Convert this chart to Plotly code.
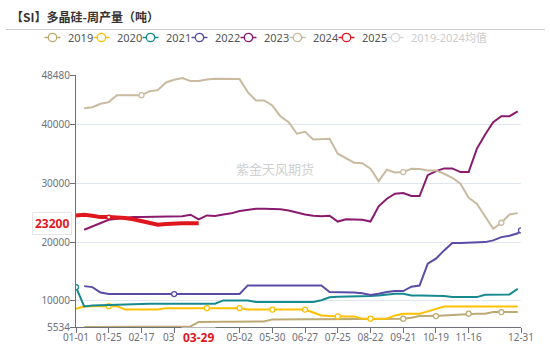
import plotly.graph_objects as go

# ---------------- data ----------------
# category dates (weekly union) and their positions on the x axis
dates = ["01-01","01-05","01-12","01-19","01-25","02-02","02-09","02-12","02-17","02-23",
         "03-01","03-02","03-08","03-15","03-22","03-29","04-05","04-12","04-19","04-26",
         "05-02","05-09","05-16","05-23","05-30","06-06","06-13","06-20","06-27","07-04",
         "07-11","07-18","07-25","08-01","08-08","08-15","08-22","08-29","09-05","09-12",
         "09-21","09-28","10-05","10-12","10-19","10-26","11-02","11-09","11-16","11-23",
         "11-30","12-07","12-14","12-21","12-27","12-31"]
pos = list(range(55)) + [54.4]

N = None
y2019 = [N, 5534, 5550, 5560, 5570, 5580, 5580, 5590, 5600, 5600,
         5610, 5610, 5620, 5620, 5630, 6400, 6450, 6450, 6450, 6450,
         6450, 6450, 6450, 6490, 6830, 6870, 6870, 6870, 6870, 6870,
         6870, 6870, 6870, 6870, 6870, 6900, 6950, 6950, 6950, 6950,
         6950, 7120, 7390, 7390, 7390, 7510, 7600, 7680, 7800, 7800,
         7800, 8070, 8070, 8070, 8070, N]
y2020 = [8650, 9040, 9090, 9090, 9090, 9090, 8510, 8510, 8510, 8510,
         8510, 8750, 8750, 8750, 8750, 8750, 8750, 8750, 8750, 8750,
         8750, 8500, 8500, 8500, 8500, 8500, 8500, 8500, 8500, 8000,
         7510, 7420, 7340, 7340, 7340, 6950, 6950, 6950, 6950, 7510,
         7800, 7800, 7800, 8200, 8650, 9040, 9040, 9040, 9040, 9040,
         9040, 9040, 9040, 9040, 9040, N]
y2021 = [12330, 9040, 9210, 9250, 9250, 9250, 9250, 9300, 9450, 9500,
         9500, 9500, 9500, 9500, 9500, 9500, 9500, 9500, 10060, 10060,
         10060, 10060, 9800, 9800, 9800, 9800, 9800, 9800, 9800, 9800,
         10100, 10600, 10700, 10700, 10700, 10700, 10800, 10900, 11100, 11200,
         11200, 10920, 10920, 10920, 10920, 10800, 10630, 10630, 10630, 10630,
         11040, 11090, 11090, 11090, 12060, N]
y2022 = [N, 12500, 12330, 11400, 11150, 11150, 11150, 11150, 11150, 11150,
         11150, 11150, 11150, 11150, 11150, 11150, 11150, 11150, 11150, 11150,
         11150, 12620, 12620, 12620, 12620, 12620, 12620, 12620, 12620, 12700,
         12600, 11500, 11500, 11400, 11400, 11300, 11000, 11200, 11500, 11650,
         11650, 12400, 12600, 16320, 17170, 18590, 19830, 19870, 19900, 19950,
         20000, 20290, 20850, 21090, 21500, 22000]
y2023 = [N, 22100, 22700, 23200, 23800, 24000, 24200, 24300, 24300, 24300,
         24350, 24350, 24400, 24400, 24670, 23870, 24550, 24450, 24700, 24900,
         25300, 25500, 25700, 25700, 25700, 25600, 25400, 25000, 24700, 24500,
         24400, 24500, 23500, 23900, 23900, 23800, 23500, 26100, 27400, 28250,
         28350, 27850, 27850, 31400, 32100, 32560, 32560, 31930, 31930, 35900,
         38300, 40450, 41470, 41470, 42270, N]
y2024 = [N, 42830, 43000, 43580, 43860, 45050, 45050, 45050, 45050, 45730,
         45900, 47210, 47670, 47950, 47440, 47440, 47720, 47840, 47840, 47840,
         47780, 45560, 44150, 44150, 43290, 41420, 40450, 38470, 38810, 37500,
         37550, 37620, 35060, 34310, 33530, 33460, 32510, 30390, 32340, 31880,
         31930, 32510, 32440, 32220, 32220, 31650, 30970, 29950, 27570, 26540,
         24300, 22280, 23300, 24720, 24940, N]
y2025 = [24550, 24650, 24500, 24260, 24260, 24260, 24100, 23900, 23600, 23300,
         22950, 23100, 23200, 23200, 23200, 23200]

series_names = ["2019", "2020", "2021", "2022", "2023", "2024", "2025"]
tick_idx = [0, 4, 8, 12, 16, 20, 24, 28, 32, 36, 40, 44, 48, 55]
hidden_tick_idx = [12, 16]          # labels covered by the axis-pointer label
y_ticks = [5534, 10000, 20000, 30000, 40000, 48480]
pointer_value = 23200
pointer_date_idx = 15

# ---------------- style ----------------
colors = {"2019": "#bcaa72", "2020": "#ffc000", "2021": "#168a8e", "2022": "#5a4ba6",
          "2023": "#8a1a6e", "2024": "#c9baa0", "2025": "#e0161e"}
mean_color = "#d9d9d9"
marker_idx = {"2019": [40, 44, 48, 52], "2020": [4, 16, 20, 24, 28, 32, 36],
              "2021": [0], "2022": [12, 55], "2023": [], "2024": [8, 40, 52], "2025": [4]}
data = {"2019": y2019, "2020": y2020, "2021": y2021, "2022": y2022,
        "2023": y2023, "2024": y2024, "2025": y2025}

FONT = "Noto Sans, Noto Sans CJK SC, sans-serif"
L, R, T, B = 76, 29, 75, 19
W, H = 550, 346
PW, PH = W - L - R, H - T - B

def px2x(px):
    return (px - L) / PW

def py2y(py):
    return (H - B - py) / PH

fig = go.Figure()
for name in series_names:
    ys = data[name]
    xs = pos[:len(ys)]
    op = [1 if i in marker_idx[name] else 0 for i in range(len(ys))]
    fig.add_trace(go.Scatter(
        x=xs, y=ys, mode="lines+markers", name=name,
        line=dict(color=colors[name], width=4 if name == "2025" else 2),
        marker=dict(symbol="circle", size=5 if name != "2025" else 4, color="white",
                    opacity=op, line=dict(color=colors[name], width=1.3)),
        connectgaps=False, hoverinfo="skip"))

shapes = []
annotations = []

# title + separator line
annotations.append(dict(xref="paper", yref="paper", x=px2x(9), y=py2y(16.5),
                        xanchor="left", yanchor="middle", showarrow=False,
                        text="<b>【SI】多晶硅-周产量（吨）</b>",
                        font=dict(family="Noto Sans CJK SC", size=12, color="#333333")))
shapes.append(dict(type="line", xref="paper", yref="paper", x0=px2x(6), x1=px2x(545),
                   y0=py2y(29.5), y1=py2y(29.5), line=dict(color="#cccccc", width=1)))

# legend (manual, echarts style)
leg_names = series_names + ["2019-2024均值"]
leg_colors = [colors[n] for n in series_names] + [mean_color]
leg_y = 37.5
for k, (nm, col) in enumerate(zip(leg_names, leg_colors)):
    cx = 52.5 + 49 * k
    shapes.append(dict(type="line", xref="paper", yref="paper", x0=px2x(cx - 8), x1=px2x(cx + 8),
                       y0=py2y(leg_y), y1=py2y(leg_y), line=dict(color=col, width=1.5)))
    r = 4.2
    shapes.append(dict(type="circle", xref="paper", yref="paper",
                       x0=px2x(cx - r), x1=px2x(cx + r), y0=py2y(leg_y + r), y1=py2y(leg_y - r),
                       fillcolor="white", line=dict(color=col, width=1.3)))
    annotations.append(dict(xref="paper", yref="paper", x=px2x(cx + 13), y=py2y(leg_y),
                            xanchor="left", yanchor="middle", showarrow=False, text=nm,
                            font=dict(family=FONT, size=11,
                                      color="#cccccc" if k == 7 else "#555555")))

# watermark
annotations.append(dict(xref="paper", yref="paper", x=px2x(275), y=py2y(168),
                        xanchor="center", yanchor="middle", showarrow=False,
                        text="紫金天风期货",
                        font=dict(family="Noto Sans CJK SC", size=13, color="#d0d0d0")))

# visible fragment of the covered "03-08" tick label
annotations.append(dict(xref="paper", yref="paper", x=px2x(177), y=py2y(337),
                        xanchor="right", yanchor="middle", showarrow=False, text="03",
                        font=dict(family=FONT, size=10, color="#6e7079")))

# axis pointer labels
annotations.append(dict(xref="paper", yref="y", x=px2x(72), y=pointer_value,
                        xanchor="right", yanchor="middle", showarrow=False,
                        text="<b>%d</b>" % pointer_value, bgcolor="white",
                        bordercolor="#e6e6e6", borderwidth=1, borderpad=2,
                        font=dict(family=FONT, size=12, color="#e0161e")))
annotations.append(dict(xref="x", yref="paper", x=pos[pointer_date_idx], y=py2y(337),
                        xanchor="center", yanchor="middle", showarrow=False,
                        text="<b>%s</b>" % dates[pointer_date_idx], bgcolor="white",
                        borderpad=1,
                        font=dict(family=FONT, size=12, color="#e0161e")))

tick_text = ["" if i in hidden_tick_idx else dates[i] for i in tick_idx]

fig.update_layout(
    template="none",
    width=W, height=H, margin=dict(l=L, r=R, t=T, b=B, pad=0),
    paper_bgcolor="white", plot_bgcolor="white", showlegend=False,
    shapes=shapes, annotations=annotations,
    xaxis=dict(range=[0, 54.4], automargin=False, showgrid=False, zeroline=False, showline=True,
               linecolor="#6e7079", linewidth=1, ticks="outside", ticklen=5,
               tickcolor="#6e7079", tickmode="array", ticklabelstandoff=-4,
               tickvals=[pos[i] for i in tick_idx], ticktext=tick_text,
               tickfont=dict(family=FONT, size=10, color="#6e7079")),
    yaxis=dict(range=[5534, 48480], automargin=False, showgrid=True, gridcolor="#e0e6f1",
               gridwidth=1, zeroline=False, ticklabelstandoff=-2,
               showline=True, linecolor="#6e7079", linewidth=1, ticks="outside", ticklen=5,
               tickcolor="#6e7079", tickmode="array", tickvals=y_ticks,
               ticktext=[str(v) for v in y_ticks],
               tickfont=dict(family=FONT, size=10, color="#6e7079")),
)

fig.write_html("out.html")
